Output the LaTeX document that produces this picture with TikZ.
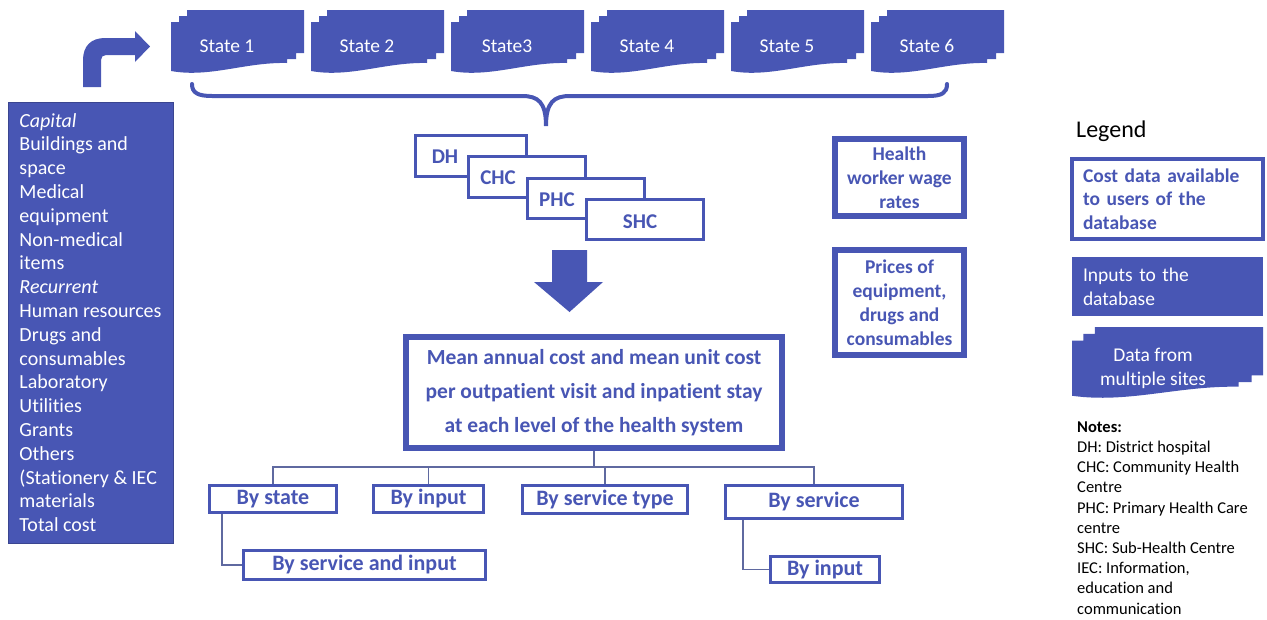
\documentclass[tikz,border=0pt]{standalone}
\usepackage{fontspec}
\setmainfont{Carlito}[Ligatures=NoCommon]
\usetikzlibrary{calc}
\definecolor{dbblue}{RGB}{72,86,180}
\definecolor{treeline}{RGB}{95,105,160}
\newcommand\mdocshape{(0,12) -- (8,12) -- (8,6) -- (16,6) -- (16,0) -- (133,0) -- (133,43) -- (125,43) -- (125,49) -- (116,49) -- (116,53) .. controls (74,52) and (39,68) .. (0,61) -- cycle}
\tikzset{
  statetext/.style={text=white, inner sep=0pt, font=\fontsize{19.5}{23}\selectfont},
  outbox/.style={draw=dbblue, fill=white, text=dbblue, inner sep=0pt, align=center},
  lvlbox/.style={draw=dbblue, line width=3pt, fill=white, inner sep=0pt},
  lvltext/.style={text=dbblue, inner sep=0pt, font=\bfseries\fontsize{21}{25}\selectfont},
  bybox/.style={draw=dbblue, line width=3pt, fill=white, text=dbblue, inner sep=0pt, font=\bfseries\fontsize{22}{26}\selectfont},
  tree/.style={draw=treeline, line width=1.5pt},
  inbox/.style={fill=dbblue, text=white, inner sep=0pt},
}
\begin{document}
\begin{tikzpicture}[x=1pt,y=-1pt]
\useasboundingbox (0,0) rectangle (1267,619);

% states
\foreach \i/\L/\lab in {1/171/State 1, 2/311/State 2, 3/451/State3, 4/591/State 4, 5/731/State 5, 6/871/State 6} {
  \fill[dbblue, shift={(\L,10)}] \mdocshape;
  \node[statetext] (state\i) at (\L+56,46) {\lab};
}

% bent arrow
\fill[dbblue] (83,87) -- (83,60) .. controls (83,46) and (91,38) .. (105,38) -- (135,38) -- (135,31) -- (150,46.5) -- (135,62) -- (135,55) -- (106,55) .. controls (103,55) and (101,57) .. (101,60) -- (101,87) -- cycle;

% brace
\draw[dbblue, line width=4pt, line cap=round] (192,84) .. controls (192,93) and (198,96) .. (212,96) -- (522,96) .. controls (538,96) and (546,102) .. (546,126) .. controls (546,102) and (554,96) .. (570,96) -- (928,96) .. controls (942,96) and (947,93) .. (947,84);

% inputs box
\node[inbox, draw=dbblue!80!black, line width=0.8pt, minimum width=165pt, minimum height=441pt, align=left, font=\fontsize{20}{23.8}\selectfont] (inputs) at (90.5,322.5)
 {\textit{Capital}\\Buildings and\\space\\Medical\\equipment\\Non-medical\\items\\\textit{Recurrent}\\Human resources\\Drugs and\\consumables\\Laboratory\\Utilities\\Grants\\Others\\(Stationery \& IEC\\materials\\Total cost};

% levels
\node[lvlbox, minimum width=111pt, minimum height=41pt] (dhbox) at (471,156) {};
\node[lvltext] (dh) at (445,157) {DH};
\node[lvlbox, minimum width=117pt, minimum height=41pt] (chcbox) at (527,177) {};
\node[lvltext] (chc) at (498,178) {CHC};
\node[lvlbox, minimum width=117pt, minimum height=40pt] (phcbox) at (586,198.5) {};
\node[lvltext] (phc) at (557,200) {PHC};
\node[lvlbox, minimum width=117pt, minimum height=40pt] (shcbox) at (645,219.5) {};
\node[lvltext] (shc) at (640,222) {SHC};

% down arrow
\fill[dbblue] (552,250) -- (587,250) -- (587,282) -- (603,282) -- (569.5,312) -- (534,282) -- (552,282) -- cycle;

% main box
\node[outbox, line width=6pt, minimum width=376pt, minimum height=111pt, font=\bfseries\fontsize{21.5}{34}\selectfont] (main) at (594,392.5)
 {Mean annual cost and mean unit cost\\per outpatient visit and inpatient stay\\at each level of the health system};

% price boxes
\node[outbox, line width=6pt, minimum width=129pt, minimum height=77pt, font=\bfseries\fontsize{19.5}{24}\selectfont] (wage) at (899.5,177.5) {Health\\worker wage\\rates};
\node[outbox, line width=6pt, minimum width=129pt, minimum height=105pt, font=\bfseries\fontsize{19.5}{24}\selectfont] (prices) at (899.5,302.5) {Prices of\\equipment,\\drugs and\\consumables};

% outputs
\node[bybox, minimum width=127pt, minimum height=27pt] (bystate) at (273,499) {By state};
\node[bybox, minimum width=110pt, minimum height=27pt] (byinput) at (428.5,499) {By input};
\node[bybox, minimum width=165pt, minimum height=28pt] (bytype) at (605,499.5) {By service type};
\node[bybox, minimum width=177pt, minimum height=33pt] (byservice) at (814,502) {By service};
\node[bybox, minimum width=242pt, minimum height=29pt] (bysi) at (364.5,565) {By service and input};
\node[bybox, minimum width=109pt, minimum height=26pt] (byinput2) at (825,569.5) {By input};

% tree connectors
\foreach \c in {bystate, byinput, bytype, byservice} {
  \draw[tree] (main.south) |- ($(\c.north)+(0,-17)$) -- (\c.north);
}
\draw[tree] ([xshift=14pt]bystate.south west) |- (bysi.west);
\draw[tree] ([xshift=19pt]byservice.south west) |- (byinput2.west);

% legend
\node[anchor=west, inner sep=0pt, font=\fontsize{24}{28}\selectfont] (legend) at (1076,131) {Legend};
\node[outbox, line width=4pt, minimum width=191pt, minimum height=80pt, align=left, text width=169pt, font=\bfseries\fontsize{19.5}{23.5}\selectfont] (legout) at (1167.5,199) {Cost data available\\to users of the\\database};
\node[inbox, minimum width=191pt, minimum height=59pt, align=left, text width=169pt, font=\fontsize{19.5}{24}\selectfont] (legin) at (1167.5,286.5) {Inputs to the\\database};
\fill[dbblue, shift={(1072,327)}, xscale=1.436, yscale=1.127] \mdocshape;
\node[inner sep=0pt, text=white, align=center, font=\fontsize{19.5}{24}\selectfont] (legdoc) at (1153,368) {Data from\\multiple sites};

% notes
\node[anchor=west, inner sep=0pt, align=left, font=\fontsize{16.5}{20.2}\selectfont] (notes) at (1077,518)
 {\textbf{Notes:}\\DH: District hospital\\CHC: Community Health\\Centre\\PHC: Primary Health Care\\centre\\SHC: Sub-Health Centre\\IEC: Information,\\education and\\communication};
\end{tikzpicture}
\end{document}
